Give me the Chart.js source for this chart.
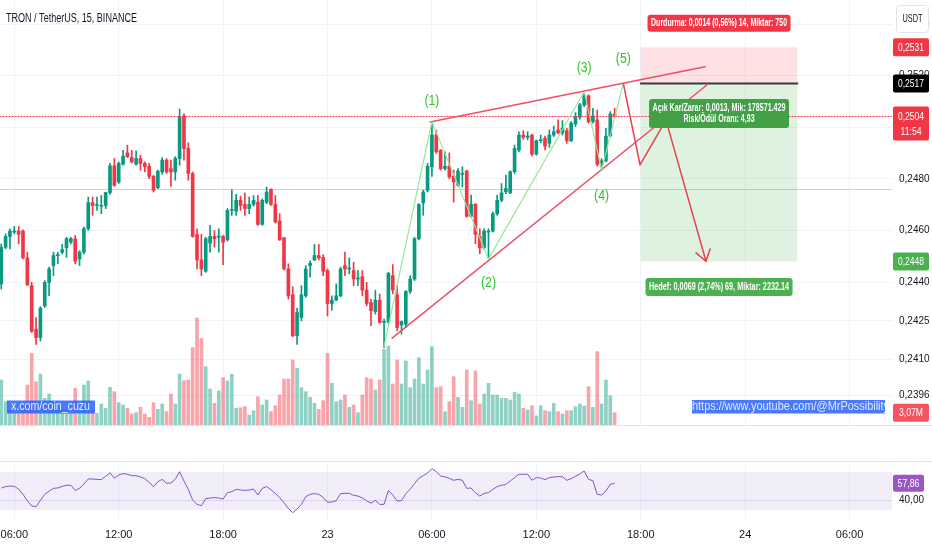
<!DOCTYPE html>
<html lang="tr">
<head>
<meta charset="UTF-8" />
<meta name="viewport" content="width=device-width, initial-scale=1.0" />
<title>TRON / TetherUS, 15, BINANCE</title>
<script src="https://cdn.jsdelivr.net/npm/chart.js"></script>
<style>
  html, body { margin: 0; padding: 0; background: #ffffff; }
  #wrap { position: relative; width: 932px; height: 550px; overflow: hidden; }
  #mainPane { position: absolute; left: 0; top: 0; width: 932px; height: 425px; }
  #rsiPane { position: absolute; left: 0; top: 425px; width: 932px; height: 125px; }
</style>
</head>
<body>
<div id="wrap">
  <div id="mainPane"><canvas id="priceChart"></canvas></div>
  <div id="rsiPane"><canvas id="rsiChart"></canvas></div>
</div>
<script>
// 15 minute bars, first bar opens 22nd 05:15 (hours counted from 22nd 00:00)
const firstBarHour = 5.25;
const barHours = 0.25;

const opens = [
  0.24393,0.24535,0.24577,0.24594,0.24598,0.24598,0.24494,0.24386,0.24218,0.24185,
  0.24308,0.24399,0.24464,0.24503,0.24516,0.24533,0.24555,0.24568,0.24490,0.24516,
  0.24607,0.24708,0.24697,0.24694,0.24697,0.24747,0.24851,0.24788,0.24857,0.24901,
  0.24883,0.24857,0.24879,0.24860,0.24849,0.24810,0.24766,0.24827,0.24873,0.24840,
  0.24827,0.24879,0.25044,0.24918,0.24821,0.24585,0.24486,0.24442,0.24551,0.24577,
  0.24574,0.24577,0.24564,0.24678,0.24675,0.24717,0.24701,0.24685,0.24701,0.24710,
  0.24624,0.24710,0.24760,0.24701,0.24637,0.24572,0.24451,0.24351,0.24192,0.24263,
  0.24347,0.24464,0.24486,0.24503,0.24496,0.24445,0.24317,0.24330,0.24347,0.24464,
  0.24451,0.24445,0.24412,0.24421,0.24369,0.24321,0.24286,0.24330,0.24244,0.24247,
  0.24425,0.24351,0.24234,0.24237,0.24364,0.24412,0.24568,0.24707,0.24756,0.24847,
  0.24970,0.24911,0.24840,0.24849,0.24810,0.24775,0.24818,0.24831,0.24655,0.24702,
  0.24577,0.24533,0.24594,0.24598,0.24665,0.24717,0.24750,0.24746,0.24828,0.24912,
  0.24970,0.24961,0.24970,0.24896,0.24948,0.24957,0.24938,0.24970,0.24990,0.24979,
  0.24987,0.24948,0.25013,0.25039,0.25087,0.25122,0.25022,0.25029,0.24860,0.24870,
  0.24966,0.25052
];
const highs = [
  0.24548,0.24587,0.24607,0.24616,0.24616,0.24603,0.24516,0.24399,0.24263,0.24305,
  0.24406,0.24458,0.24516,0.24516,0.24546,0.24574,0.24574,0.24581,0.24522,0.24613,
  0.24730,0.24730,0.24730,0.24736,0.24749,0.24860,0.24879,0.24866,0.24911,0.24931,
  0.24911,0.24909,0.24892,0.24866,0.24860,0.24814,0.24834,0.24883,0.24879,0.24873,
  0.24886,0.25071,0.25052,0.24940,0.24827,0.24607,0.24585,0.24574,0.24620,0.24600,
  0.24607,0.24581,0.24685,0.24758,0.24740,0.24733,0.24745,0.24730,0.24736,0.24736,
  0.24723,0.24769,0.24762,0.24736,0.24665,0.24574,0.24471,0.24382,0.24299,0.24386,
  0.24464,0.24483,0.24546,0.24546,0.24507,0.24451,0.24347,0.24393,0.24458,0.24516,
  0.24494,0.24477,0.24445,0.24445,0.24399,0.24334,0.24369,0.24354,0.24257,0.24438,
  0.24468,0.24386,0.24250,0.24367,0.24425,0.24574,0.24704,0.24756,0.24860,0.25022,
  0.24989,0.24914,0.24905,0.24901,0.24834,0.24840,0.24847,0.24834,0.24737,0.24704,
  0.24607,0.24607,0.24607,0.24672,0.24737,0.24782,0.24815,0.24831,0.24931,0.24983,
  0.24987,0.24983,0.24974,0.24951,0.24970,0.24966,0.24990,0.25005,0.25029,0.25026,
  0.24996,0.25022,0.25057,0.25093,0.25139,0.25126,0.25074,0.25067,0.24879,0.24996,
  0.25061,0.25074
];
const lows = [
  0.24373,0.24529,0.24529,0.24587,0.24548,0.24490,0.24386,0.24205,0.24159,0.24172,
  0.24302,0.24347,0.24425,0.24471,0.24509,0.24496,0.24548,0.24471,0.24464,0.24509,
  0.24600,0.24659,0.24678,0.24665,0.24685,0.24740,0.24771,0.24782,0.24853,0.24883,
  0.24862,0.24853,0.24834,0.24827,0.24801,0.24749,0.24762,0.24818,0.24821,0.24771,
  0.24795,0.24853,0.24873,0.24795,0.24574,0.24451,0.24425,0.24438,0.24516,0.24535,
  0.24516,0.24468,0.24559,0.24659,0.24659,0.24678,0.24659,0.24665,0.24694,0.24620,
  0.24620,0.24704,0.24697,0.24629,0.24561,0.24447,0.24334,0.24188,0.24159,0.24250,
  0.24341,0.24419,0.24483,0.24486,0.24425,0.24269,0.24291,0.24328,0.24343,0.24425,
  0.24432,0.24386,0.24386,0.24347,0.24308,0.24231,0.24276,0.24240,0.24146,0.24240,
  0.24354,0.24211,0.24198,0.24224,0.24356,0.24406,0.24564,0.24659,0.24749,0.24810,
  0.24899,0.24834,0.24834,0.24801,0.24710,0.24771,0.24769,0.24652,0.24652,0.24549,
  0.24510,0.24529,0.24490,0.24594,0.24659,0.24711,0.24743,0.24743,0.24821,0.24905,
  0.24953,0.24951,0.24888,0.24892,0.24940,0.24912,0.24922,0.24964,0.24974,0.24970,
  0.24938,0.24944,0.25003,0.25031,0.25080,0.25016,0.25016,0.24850,0.24834,0.24866,
  0.24964,0.25038
];
const closes = [
  0.24535,0.24577,0.24598,0.24598,0.24585,0.24494,0.24390,0.24209,0.24185,0.24299,
  0.24399,0.24451,0.24503,0.24507,0.24526,0.24568,0.24568,0.24481,0.24516,0.24607,
  0.24708,0.24697,0.24700,0.24697,0.24747,0.24851,0.24775,0.24860,0.24888,0.24886,
  0.24866,0.24879,0.24860,0.24847,0.24810,0.24756,0.24830,0.24873,0.24827,0.24827,
  0.24879,0.25041,0.24918,0.24821,0.24577,0.24486,0.24451,0.24568,0.24577,0.24568,
  0.24577,0.24555,0.24678,0.24681,0.24717,0.24697,0.24685,0.24701,0.24717,0.24624,
  0.24717,0.24749,0.24701,0.24633,0.24564,0.24451,0.24347,0.24192,0.24282,0.24351,
  0.24451,0.24473,0.24503,0.24494,0.24442,0.24317,0.24330,0.24347,0.24451,0.24451,
  0.24455,0.24412,0.24416,0.24369,0.24317,0.24289,0.24330,0.24244,0.24247,0.24434,
  0.24369,0.24224,0.24247,0.24364,0.24412,0.24568,0.24701,0.24749,0.24849,0.24970,
  0.24905,0.24840,0.24849,0.24808,0.24788,0.24831,0.24821,0.24655,0.24702,0.24585,
  0.24533,0.24598,0.24598,0.24665,0.24717,0.24746,0.24763,0.24828,0.24918,0.24970,
  0.24961,0.24966,0.24896,0.24948,0.24951,0.24927,0.24970,0.24983,0.24979,0.24996,
  0.24948,0.25016,0.25042,0.25087,0.25122,0.25022,0.25044,0.24857,0.24870,0.24966,
  0.25052,0.25042
];
// volume in millions TRX
const volumes = [
  11.25,5.83,3.75,2.92,2.92,4.58,10.0,17.9,10.8,12.75,
  6.67,7.75,5.83,4.58,3.75,3.75,2.92,9.17,3.75,10.0,
  11.0,3.75,2.92,5.25,4.17,9.42,8.33,5.58,5.0,4.17,
  2.75,3.08,4.42,2.75,1.92,5.58,3.92,5.25,3.33,7.75,
  5.25,12.75,11.08,11.25,19.33,26.75,21.67,14.58,9.0,5.42,
  8.5,11.83,11.0,12.67,4.17,4.33,4.58,2.5,3.58,7.08,
  5.0,6.25,3.33,4.83,7.5,11.5,11.5,16.25,14.17,9.33,
  8.33,6.92,5.42,3.92,6.08,17.92,10.42,5.83,6.25,7.5,
  4.42,5.0,3.08,7.5,11.83,11.5,8.75,11.25,18.92,19.75,
  10.25,16.25,10.25,16.0,9.33,11.5,16.83,10.25,13.75,19.58,
  9.33,9.58,3.33,5.83,12.08,6.92,4.42,13.75,6.08,13.5,
  5.25,7.75,10.42,7.5,7.5,6.67,6.67,6.25,8.17,7.75,
  4.17,3.75,4.83,2.25,4.83,3.58,3.33,5.42,3.33,2.75,
  3.58,3.58,4.58,5.25,4.75,9.58,4.42,18.33,5.25,11.25,
  7.33,3.07
];
const rsi = [
  53.0,54.4,55.0,54.7,51.9,46.4,39.7,34.2,33.5,40.1,
  46.4,49.8,52.6,53.0,54.7,55.8,55.8,50.5,52.6,57.2,
  62.4,62.4,62.0,61.7,65.2,69.0,63.1,66.6,68.0,67.3,
  65.9,65.9,64.5,62.7,58.9,54.4,59.6,62.0,57.9,58.2,
  62.0,70.0,60.3,51.6,40.4,35.9,34.5,41.8,42.5,42.9,
  42.5,41.5,48.1,49.2,51.6,50.9,50.5,50.9,51.9,45.7,
  52.6,54.4,51.2,47.4,42.9,37.7,31.7,27.2,31.0,35.9,
  43.9,46.4,47.1,46.4,43.2,38.0,38.4,39.7,47.1,47.4,
  47.4,45.3,44.6,42.5,39.7,37.0,40.1,35.9,35.9,50.5,
  45.7,39.4,39.7,47.1,51.6,57.5,63.1,65.9,68.6,73.2,
  70.0,65.5,64.5,63.1,61.0,62.0,61.0,52.6,53.0,47.8,
  44.6,47.4,48.1,51.6,54.4,55.8,56.8,60.3,63.8,67.3,
  67.3,67.3,61.0,63.8,63.4,61.7,63.8,64.5,64.8,64.8,
  61.0,62.7,65.2,67.6,70.7,62.0,60.6,46.4,45.7,49.8,
  56.8,57.86
];

// axis ticks
const timeTickHours = [6, 12, 18, 24, 30, 36, 42, 48, 54];
const timeTickLabels = ['06:00', '12:00', '18:00', '23', '06:00', '12:00', '18:00', '24', '06:00'];
const priceTicks = [0.2540, 0.2520, 0.2500, 0.2480, 0.2460, 0.2440, 0.2425, 0.2410, 0.2396];
const rsiTicks = [40];
const rsiUpper = 70;
const rsiLower = 30;

// drawings on the chart (hour, price)
const levelLine = 0.24761;
const waveHours = [27.25, 30.0, 33.25, 38.75, 39.75, 41.0];
const wavePrices = [0.24150, 0.25022, 0.24490, 0.25139, 0.24834, 0.25170];
const waveLabels = ['', '(1)', '(2)', '(3)', '(4)', '(5)'];
const wedgeUpperHours = [29.89, 45.70];
const wedgeUpperPrices = [0.25021, 0.25235];
const wedgeLowerHours = [27.71, 45.87];
const wedgeLowerPrices = [0.24183, 0.25168];
const projHours = [41.0, 41.96, 43.45, 45.75];
const projPrices = [0.25170, 0.24854, 0.25028, 0.24481];
const posStart = 42;
const posEnd = 51;
const entryPrice = 0.2517;
const stopPrice = 0.2531;
const targetPrice = 0.2448;
const stopText = 'Durdurma: 0,0014 (0,56%) 14, Miktar: 750';
const pnlText = ['Açık Kar/Zarar: 0,0013, Mik: 178571.429', 'Risk/Ödül Oranı: 4,93'];
const targetText = 'Hedef: 0,0069 (2,74%) 69, Miktar: 2232.14';
const countdown = '11:54';
const titleText = 'TRON / TetherUS, 15, BINANCE';

// view window
const X_MIN = 5.178, X_MAX = 56.44;
const Y_MIN = 0.238462, Y_MAX = 0.254935;
const VOL_MAX = 106.25;
const RSI_MIN = 19.56, RSI_MAX = 80.13;

const UP = '#089981';
const DOWN = '#f23645';
const GRID = '#f0f3fa';
const TEXT = '#131722';
const FONT = "'Liberation Sans Narrow', 'Liberation Sans', Roboto, sans-serif";

Chart.defaults.font.family = FONT;
Chart.defaults.font.size = 11;
Chart.defaults.color = TEXT;
Chart.defaults.animation = false;
Chart.defaults.plugins.legend.display = false;
Chart.defaults.plugins.tooltip.enabled = false;

const hours = opens.map((o, i) => firstBarHour + i * barHours);
const up = opens.map((o, i) => closes[i] >= o);
const candleColors = up.map(u => (u ? UP : DOWN));
const volumeColors = up.map(u => (u ? 'rgba(8,153,129,0.45)' : 'rgba(242,54,69,0.45)'));
const last = closes.length - 1;
const comma = (v, d) => v.toFixed(d).replace('.', ',');

function fitText(ctx, text, x, y, font, color, width, align) {
    ctx.save();
    ctx.font = font;
    ctx.fillStyle = color;
    ctx.textBaseline = 'middle';
    ctx.textAlign = align || 'center';
    const w = ctx.measureText(text).width;
    ctx.translate(x, y);
    if (width && w > 0) ctx.scale(width / w, 1);
    ctx.fillText(text, 0, 0);
    ctx.restore();
}

function box(ctx, x, y, w, h, r, fill, stroke) {
    ctx.beginPath();
    if (ctx.roundRect) ctx.roundRect(x, y, w, h, r); else ctx.rect(x, y, w, h);
    ctx.fillStyle = fill;
    ctx.fill();
    if (stroke) { ctx.strokeStyle = stroke; ctx.lineWidth = 1; ctx.stroke(); }
}

function pathLine(ctx, xs, ys, hs, ps, color, width) {
    ctx.beginPath();
    hs.forEach((h, i) => {
        const px = xs.getPixelForValue(h), py = ys.getPixelForValue(ps[i]);
        if (i) ctx.lineTo(px, py); else ctx.moveTo(px, py);
    });
    ctx.strokeStyle = color;
    ctx.lineWidth = width;
    ctx.stroke();
}

function priceTag(ctx, x, w, yc, bg, text) {
    box(ctx, x, yc - 9, w, 18, 2, bg);
    fitText(ctx, text, x + w / 2, yc + 0.5, '11px ' + FONT, '#ffffff', 26);
}

const priceOverlay = {
    id: 'priceOverlay',
    beforeDatasetsDraw(chart) {
        const { ctx, chartArea: a, scales: { x, y } } = chart;
        ctx.save();
        ctx.beginPath();
        ctx.rect(a.left, a.top, a.right - a.left, a.bottom - a.top);
        ctx.clip();
        const yl = Math.round(y.getPixelForValue(levelLine)) + 0.5;
        ctx.beginPath(); ctx.moveTo(a.left, yl); ctx.lineTo(a.right, yl);
        ctx.strokeStyle = '#b2dfdb'; ctx.lineWidth = 1; ctx.stroke();
        // long/short position zones
        const x0 = x.getPixelForValue(posStart), x1 = x.getPixelForValue(posEnd);
        const yE = y.getPixelForValue(entryPrice);
        const yS = y.getPixelForValue(stopPrice);
        const yT = y.getPixelForValue(targetPrice);
        ctx.fillStyle = 'rgba(242,54,69,0.15)';
        ctx.fillRect(x0, yS, x1 - x0, yE - yS);
        ctx.fillStyle = 'rgba(76,175,80,0.18)';
        ctx.fillRect(x0, yE, x1 - x0, yT - yE);
        ctx.restore();
    },
    afterDatasetsDraw(chart) {
        const { ctx, chartArea: a, scales: { x, y } } = chart;
        ctx.save();
        ctx.beginPath();
        ctx.rect(a.left, a.top, a.right - a.left, a.bottom - a.top);
        ctx.clip();
        ctx.lineCap = 'round';
        ctx.lineJoin = 'round';

        // last price line
        const yLast = Math.round(y.getPixelForValue(closes[last])) + 0.5;
        ctx.setLineDash([1, 2]);
        ctx.beginPath(); ctx.moveTo(a.left, yLast); ctx.lineTo(a.right, yLast);
        ctx.strokeStyle = DOWN; ctx.lineWidth = 1; ctx.stroke();
        ctx.setLineDash([]);

        const x0 = x.getPixelForValue(posStart), x1 = x.getPixelForValue(posEnd);
        const xm = (x0 + x1) / 2;
        const yE = y.getPixelForValue(entryPrice);
        const yS = y.getPixelForValue(stopPrice);
        const yT = y.getPixelForValue(targetPrice);
        ctx.beginPath(); ctx.moveTo(x0, yE); ctx.lineTo(x1, yE);
        ctx.strokeStyle = '#363a45'; ctx.lineWidth = 2; ctx.stroke();

        // wedge + waves + projected path
        pathLine(ctx, x, y, wedgeUpperHours, wedgeUpperPrices, '#ef4f66', 1.5);
        pathLine(ctx, x, y, wedgeLowerHours, wedgeLowerPrices, '#ef4f66', 1.5);
        pathLine(ctx, x, y, waveHours, wavePrices, '#98e698', 1.2);
        pathLine(ctx, x, y, projHours, projPrices, '#e8414f', 1.5);

        // arrow head at the end of the projection
        const n = projHours.length - 1;
        const tx = x.getPixelForValue(projHours[n]), ty = y.getPixelForValue(projPrices[n]);
        const px = x.getPixelForValue(projHours[n - 1]), py = y.getPixelForValue(projPrices[n - 1]);
        const ang = Math.atan2(ty - py, tx - px);
        ctx.beginPath();
        ctx.moveTo(tx - 13 * Math.cos(ang - 0.6), ty - 13 * Math.sin(ang - 0.6));
        ctx.lineTo(tx, ty);
        ctx.lineTo(tx - 13 * Math.cos(ang + 0.6), ty - 13 * Math.sin(ang + 0.6));
        ctx.stroke();

        // wave numbers
        const labelDy = [0, -21, 24, -24, 26, -25];
        waveLabels.forEach((t, i) => {
            if (!t) return;
            fitText(ctx, t, x.getPixelForValue(waveHours[i]), y.getPixelForValue(wavePrices[i]) + labelDy[i],
                '15px ' + FONT, '#2bc52b', 15);
        });

        // position tool labels
        box(ctx, xm - 71.5, yS - 32.5, 143, 17, 3, '#f23645');
        fitText(ctx, stopText, xm, yS - 24, 'bold 10px ' + FONT, '#ffffff', 136);
        box(ctx, xm - 70, yE + 15.5, 140, 29, 3, '#43a047');
        fitText(ctx, pnlText[0], xm, yE + 24.7, 'bold 10px ' + FONT, '#ffffff', 133);
        fitText(ctx, pnlText[1], xm, yE + 35.4, 'bold 10px ' + FONT, '#ffffff', 71);
        box(ctx, xm - 73.5, yT + 16.5, 147, 18, 3, '#4caf50');
        fitText(ctx, targetText, xm, yT + 25.5, 'bold 10px ' + FONT, '#ffffff', 140);
        ctx.restore();
    },
    afterDraw(chart) {
        const { ctx, chartArea: a, scales: { y, yv } } = chart;
        const bx = a.right + 1, bw = 36;
        ctx.save();
        priceTag(ctx, bx, bw, y.getPixelForValue(stopPrice), '#f23645', comma(stopPrice, 4));
        priceTag(ctx, bx, bw, y.getPixelForValue(entryPrice), '#000000', comma(entryPrice, 4));
        const yl = y.getPixelForValue(closes[last]);
        box(ctx, bx, yl - 10, bw, 34, 2, DOWN);
        fitText(ctx, comma(closes[last], 4), bx + bw / 2, yl + 0.5, '11px ' + FONT, '#ffffff', 26);
        fitText(ctx, countdown, bx + bw / 2, yl + 15, '11px ' + FONT, '#ffffff', 21);
        priceTag(ctx, bx, bw, y.getPixelForValue(targetPrice), '#4caf50', comma(targetPrice, 4));
        const yvl = yv.getPixelForValue(volumes[last]);
        box(ctx, bx, yvl - 9, bw, 18, 2, '#f7525f');
        fitText(ctx, comma(volumes[last], 2) + 'M', bx + bw / 2, yvl + 0.5, '11px ' + FONT, '#ffffff', 24);

        // currency button
        box(ctx, a.right + 4.5, 5.5, 32, 27, 3, '#ffffff', '#e0e3eb');
        fitText(ctx, 'USDT', a.right + 20.5, 19, '11px ' + FONT, TEXT, 20);

        // symbol title
        fitText(ctx, titleText, 6, 18.5, '12px ' + FONT, TEXT, 131, 'left');

        // text notes over the volume
        ctx.fillStyle = 'rgba(41,98,255,0.85)';
        ctx.fillRect(7, 400.5, 88, 13);
        fitText(ctx, 'x.com/coin_cuzu', 11, 407, '12px ' + FONT, '#e8eeff', 79, 'left');
        ctx.fillStyle = 'rgba(41,98,255,0.85)';
        ctx.fillRect(692, 400, 193, 13.5);
        ctx.beginPath(); ctx.rect(692, 399, 193, 16); ctx.clip();
        fitText(ctx, 'https://www.youtube.com/@MrPossibility', 692, 407, '12px ' + FONT, '#dfe8ff', 197, 'left');
        ctx.restore();
    }
};

new Chart(document.getElementById('priceChart'), {
    type: 'bar',
    data: {
        datasets: [
            {
                label: 'body',
                data: hours.map((h, i) => ({ x: h, y: [opens[i], closes[i]] })),
                backgroundColor: candleColors,
                barThickness: 3,
                minBarLength: 1,
                grouped: false,
                yAxisID: 'y',
                order: 1
            },
            {
                label: 'wick',
                data: hours.map((h, i) => ({ x: h, y: [lows[i], highs[i]] })),
                backgroundColor: candleColors,
                barThickness: 1,
                grouped: false,
                yAxisID: 'y',
                order: 2
            },
            {
                label: 'volume',
                data: hours.map((h, i) => ({ x: h, y: volumes[i] })),
                backgroundColor: volumeColors,
                barThickness: 3,
                grouped: false,
                yAxisID: 'yv',
                order: 3
            }
        ]
    },
    options: {
        responsive: true,
        maintainAspectRatio: false,
        events: [],
        layout: { padding: 0 },
        scales: {
            x: {
                type: 'linear',
                min: X_MIN,
                max: X_MAX,
                offset: false,
                grid: { color: GRID, drawTicks: false, offset: false },
                border: { display: false },
                ticks: { display: false },
                afterBuildTicks: s => { s.ticks = timeTickHours.map(v => ({ value: v })); },
                afterFit: s => { s.height = 0; s.paddingLeft = 0; s.paddingRight = 0; }
            },
            y: {
                position: 'right',
                min: Y_MIN,
                max: Y_MAX,
                grid: { color: GRID, drawTicks: false },
                border: { display: false },
                ticks: { padding: 7, autoSkip: false, color: TEXT, font: { size: 10 }, callback: v => comma(v, 4) },
                afterBuildTicks: s => { s.ticks = priceTicks.map(v => ({ value: v })); },
                afterFit: s => { s.width = 40; s.paddingTop = 0; s.paddingBottom = 0; }
            },
            yv: {
                display: false,
                min: 0,
                max: VOL_MAX
            }
        }
    },
    plugins: [priceOverlay]
});

const rsiOverlay = {
    id: 'rsiOverlay',
    beforeDatasetsDraw(chart) {
        const { ctx, chartArea: a, scales: { y } } = chart;
        const yTop = y.getPixelForValue(rsiUpper), yBot = y.getPixelForValue(rsiLower);
        ctx.save();
        ctx.fillStyle = 'rgba(126,87,194,0.1)';
        ctx.fillRect(a.left, yTop, a.right - a.left, yBot - yTop);
        ctx.restore();
    },
    afterDraw(chart) {
        const { ctx, chartArea: a, scales: { y }, width } = chart;
        ctx.save();
        ctx.fillStyle = '#e0e3eb';
        ctx.fillRect(0, 0, width, 1);
        ctx.fillRect(0, a.top - 1, width, 1);
        const yr = y.getPixelForValue(rsi[last]);
        box(ctx, a.right + 1, yr - 8.5, 31, 17, 2, '#9c55c8');
        fitText(ctx, comma(rsi[last], 2), a.right + 16.5, yr + 0.5, '11px ' + FONT, '#ffffff', 22);
        ctx.restore();
    }
};

new Chart(document.getElementById('rsiChart'), {
    type: 'line',
    data: {
        datasets: [{
            label: 'RSI',
            data: hours.map((h, i) => ({ x: h, y: rsi[i] })),
            borderColor: '#7e57c2',
            borderWidth: 1,
            pointRadius: 0,
            tension: 0
        }]
    },
    options: {
        responsive: true,
        maintainAspectRatio: false,
        events: [],
        layout: { padding: { top: 37, left: 0, right: 0, bottom: 0 } },
        scales: {
            x: {
                type: 'linear',
                min: X_MIN,
                max: X_MAX,
                offset: false,
                grid: { color: GRID, drawTicks: false, offset: false },
                border: { display: false },
                ticks: { padding: 8, autoSkip: false, maxRotation: 0, color: TEXT,
                    callback: (v, i) => timeTickLabels[i] },
                afterBuildTicks: s => { s.ticks = timeTickHours.map(v => ({ value: v })); },
                afterFit: s => { s.height = 30; s.paddingLeft = 0; s.paddingRight = 0; }
            },
            y: {
                position: 'right',
                min: RSI_MIN,
                max: RSI_MAX,
                grid: { color: '#e6e1ef', drawTicks: false },
                border: { display: false },
                ticks: { padding: 7, autoSkip: false, color: TEXT, font: { size: 10 }, callback: v => comma(v, 2) },
                afterBuildTicks: s => { s.ticks = rsiTicks.map(v => ({ value: v })); },
                afterFit: s => { s.width = 40; s.paddingTop = 0; s.paddingBottom = 0; }
            }
        }
    },
    plugins: [rsiOverlay]
});
</script>
</body>
</html>
